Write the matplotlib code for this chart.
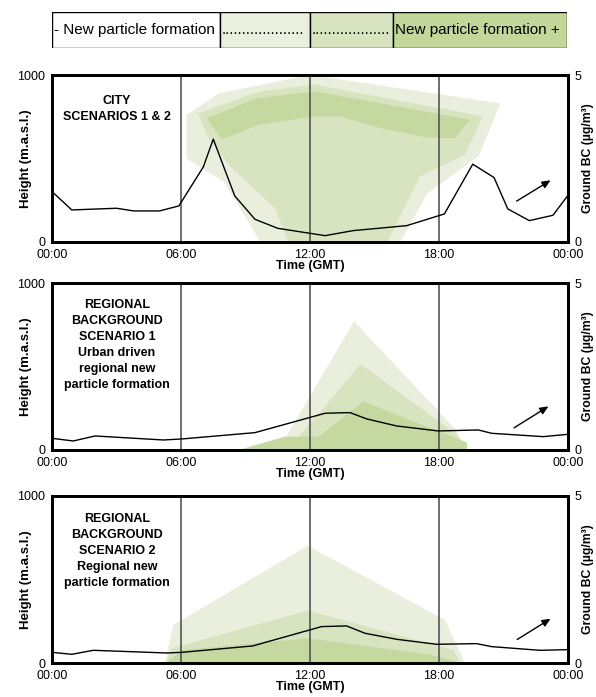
import matplotlib
matplotlib.use("Agg")
import matplotlib.pyplot as plt
from matplotlib.patches import Rectangle

plt.rcParams['font.family'] = ['Liberation Sans', 'DejaVu Sans']

# ---------------- data ----------------
xticks = [0, 6, 12, 18, 24]
xtick_labels = ["00:00", "06:00", "12:00", "18:00", "00:00"]
vlines = [6, 12, 18]

legend_labels = ["- New particle formation", "....................",
                 "...................", "New particle formation +"]

# Panel 1: CITY
city_bc_t = [0, 0.92, 3.0, 3.8, 5.0, 5.9, 7.04, 7.5, 8.5, 9.44, 10.5, 12.7, 14.0,
             16.5, 18.25, 19.57, 20.56, 21.2, 22.2, 23.3, 24]
city_bc = [1.51, 0.96, 1.01, 0.93, 0.93, 1.08, 2.25, 3.08, 1.38, 0.68, 0.41, 0.19, 0.34,
           0.49, 0.84, 2.33, 1.93, 0.99, 0.64, 0.80, 1.40]
city_light_t = [6.25, 7.75, 12.0, 20.85, 19.85, 17.45, 16.2, 9.7, 8.0, 6.25]
city_light_h = [760, 890, 1000, 830, 515, 290, 0, 0, 360, 500]
city_mid_t = [6.8, 9.6, 12.2, 20.05, 19.2, 17.1, 15.6, 11.0, 10.37, 8.36, 7.27]
city_mid_h = [770, 900, 942, 752, 522, 392, 0, 0, 202, 442, 622]
city_dark_t = [7.2, 9.6, 12.23, 19.44, 18.74, 17.5, 15.26, 13.4, 12.23, 9.6, 7.9]
city_dark_h = [742, 862, 902, 732, 622, 626, 682, 752, 752, 702, 612]
city_arrow = [(21.5, 1.18), (23.3, 1.89)]

# Panel 2: REGIONAL BACKGROUND SCENARIO 1
reg1_bc_t = [0, 0.99, 2.0, 5.18, 6.03, 9.44, 12.7, 13.86, 14.64, 16.03, 17.97, 19.83,
             20.45, 22.85, 24]
reg1_bc = [0.35, 0.27, 0.42, 0.30, 0.33, 0.52, 1.10, 1.12, 0.93, 0.72, 0.57, 0.60,
           0.50, 0.40, 0.47]
reg1_light_t = [10.8, 14.05, 18.75, 19.3, 10.8]
reg1_light_h = [60, 770, 125, 0, 0]
reg1_mid_t = [11.35, 14.36, 18.85, 19.3, 11.35]
reg1_mid_h = [60, 514, 90, 0, 0]
reg1_dark_t = [8.67, 10.84, 12.4, 14.48, 19.3, 19.3]
reg1_dark_h = [0, 80, 80, 290, 45, 0]
reg1_arrow = [(21.38, 0.62), (23.2, 1.35)]

# Panel 3: REGIONAL BACKGROUND SCENARIO 2
reg2_bc_t = [0, 0.92, 1.92, 5.33, 6.05, 9.33, 12.54, 13.7, 14.56, 16.03, 17.89, 19.75,
             20.45, 22.7, 24]
reg2_bc = [0.32, 0.26, 0.38, 0.30, 0.32, 0.51, 1.09, 1.11, 0.89, 0.71, 0.56, 0.58,
           0.49, 0.38, 0.40]
reg2_light_t = [5.26, 5.64, 11.89, 18.28, 19.2]
reg2_light_h = [0, 228, 702, 258, 0]
reg2_mid_t = [5.3, 5.57, 11.89, 18.67, 19.0]
reg2_mid_h = [0, 88, 314, 78, 0]
reg2_dark_t = [5.3, 6.1, 11.92, 17.6, 19.05]
reg2_dark_h = [0, 78, 148, 50, 0]
reg2_arrow = [(21.53, 0.66), (23.3, 1.37)]

panel_texts = [
    "CITY\nSCENARIOS 1 & 2",
    "REGIONAL\nBACKGROUND\nSCENARIO 1\nUrban driven\nregional new\nparticle formation",
    "REGIONAL\nBACKGROUND\nSCENARIO 2\nRegional new\nparticle formation",
]

# ---------------- style ----------------
C_LIGHT = "#e9efdc"
C_MID = "#d8e4c0"
C_DARK = "#c5d89f"
LEG_COLORS = ["white", "#eaf0de", "#d8e4bf", "#c4d79b"]

W, H = 596, 697
fig = plt.figure(figsize=(W / 100, H / 100), dpi=100)

# ---- legend bar ----
lax = fig.add_axes([52 / W, 1 - 48 / H, 515 / W, 36 / H])
edges_px = [52, 220, 310, 393, 567]
edges = [(e - 52) / 515 for e in edges_px]
for i in range(4):
    lax.add_patch(Rectangle((edges[i], 0), edges[i + 1] - edges[i], 1,
                            facecolor=LEG_COLORS[i], edgecolor="black", lw=1.0))
    lax.text(edges[i] + 0.003, 0.5, legend_labels[i], ha="left", va="center",
             fontsize=11, clip_on=True)
lax.set_xlim(0, 1)
lax.set_ylim(0, 1)
lax.axis("off")

panels = [
    (242, city_bc_t, city_bc, [(city_light_t, city_light_h, C_LIGHT),
                               (city_mid_t, city_mid_h, C_MID),
                               (city_dark_t, city_dark_h, C_DARK)], city_arrow),
    (450, reg1_bc_t, reg1_bc, [(reg1_light_t, reg1_light_h, C_LIGHT),
                               (reg1_mid_t, reg1_mid_h, C_MID),
                               (reg1_dark_t, reg1_dark_h, C_DARK)], reg1_arrow),
    (663, reg2_bc_t, reg2_bc, [(reg2_light_t, reg2_light_h, C_LIGHT),
                               (reg2_mid_t, reg2_mid_h, C_MID),
                               (reg2_dark_t, reg2_dark_h, C_DARK)], reg2_arrow),
]
text_tops = [95, 299, 513]

for k, (bottom_px, bt, bv, polys, arrow) in enumerate(panels):
    ax = fig.add_axes([52 / W, 1 - bottom_px / H, 516 / W, 167 / H])
    for pt, ph, col in polys:
        ax.fill(pt, ph, color=col, lw=0, zorder=1)
    for v in vlines:
        ax.axvline(v, color="#555555", lw=1.2, zorder=2)
    ax.set_xlim(0, 24)
    ax.set_ylim(0, 1000)
    ax.set_xticks(xticks)
    ax.set_xticklabels(xtick_labels, fontsize=9)
    ax.set_yticks([0, 1000])
    ax.set_yticklabels(["0", "1000"], fontsize=9)
    ax.tick_params(length=0, pad=5)
    ax.set_ylabel("Height (m.a.s.l.)", fontsize=9.5, fontweight="bold")
    ax.yaxis.set_label_coords((32 - 52) / 516, 0.5)
    ax.set_xlabel("Time (GMT)", fontsize=9, fontweight="bold", labelpad=-1)
    for s in ax.spines.values():
        s.set_linewidth(2)
        s.set_color("black")

    ax2 = ax.twinx()
    ax2.plot(bt, bv, color="black", lw=1.0, zorder=3)
    ax2.set_ylim(0, 5)
    ax2.set_xlim(0, 24)
    ax2.set_yticks([0, 5])
    ax2.set_yticklabels(["0", "5"], fontsize=9)
    ax2.tick_params(length=0, pad=5)
    ax2.set_ylabel("Ground BC (µg/m³)", fontsize=8.8, fontweight="bold")
    ax2.yaxis.set_label_coords((582 - 52) / 516, 0.5)
    for s in ax2.spines.values():
        s.set_linewidth(2)
        s.set_color("black")
    ax2.annotate("", xy=arrow[1], xytext=arrow[0],
                 arrowprops=dict(arrowstyle="-|>,head_length=0.5,head_width=0.22",
                                 color="black", lw=1.0))

    fig.text(117 / W, 1 - text_tops[k] / H, panel_texts[k], ha="center", va="top",
             fontsize=9, fontweight="bold", linespacing=1.45)

fig.savefig("out.png", dpi=100)
